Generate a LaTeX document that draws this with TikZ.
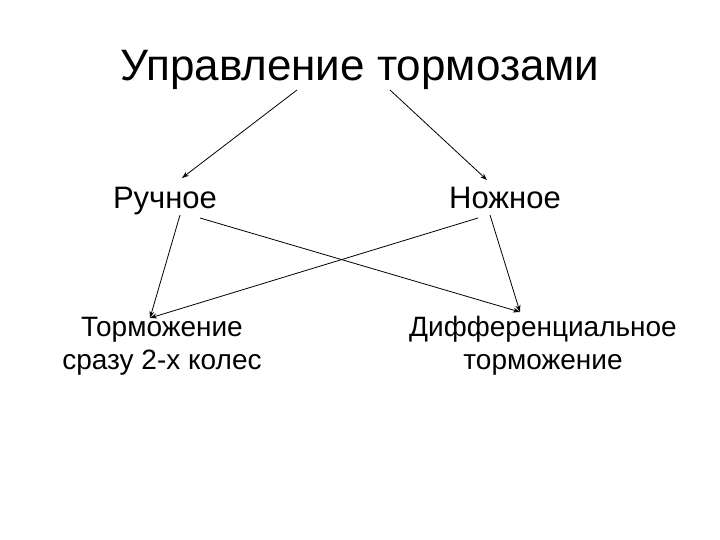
\documentclass[tikz,border=0pt]{standalone}
\usepackage{fontspec}
\setmainfont{Liberation Sans}
\usetikzlibrary{arrows.meta}
\begin{document}
\begin{tikzpicture}[x=1pt,y=-1pt,
  conn/.style={draw, line width=0.8pt, -{Stealth[length=7pt,width=5pt]}},
  lbl/.style={align=center, inner sep=0pt}]
\useasboundingbox[fill=white] (0,0) rectangle (720,540);
\node[lbl, font=\fontsize{44}{50}\selectfont, anchor=base] (t) at (360,81) {Управление тормозами};
\node[lbl, font=\fontsize{31}{36}\selectfont, anchor=base] (r) at (165,208) {Ручное};
\node[lbl, font=\fontsize{31}{36}\selectfont, anchor=base] (n) at (505,208) {Ножное};
\node[lbl, font=\fontsize{28}{33}\selectfont] (a) at (162,346) {Торможение\\сразу 2-х колес};
\node[lbl, font=\fontsize{28}{33}\selectfont] (d) at (543,346) {Дифференциальное\\торможение};
\coordinate (t1) at (297,90); \coordinate (t2) at (390,90);
\coordinate (r1) at (182,178); \coordinate (n1) at (487,180);
\coordinate (r2) at (180,215); \coordinate (r3) at (200,218);
\coordinate (n2) at (490,215); \coordinate (n3) at (478,218);
\coordinate (a1) at (150,318); \coordinate (d1) at (520,312);
\draw[conn] (t1) -- (r1);
\draw[conn] (t2) -- (n1);
\draw[conn] (r2) -- (a1);
\draw[conn] (n2) -- (d1);
\draw[conn] (r3) -- (d1);
\draw[conn] (n3) -- (a1);
\end{tikzpicture}
\end{document}
